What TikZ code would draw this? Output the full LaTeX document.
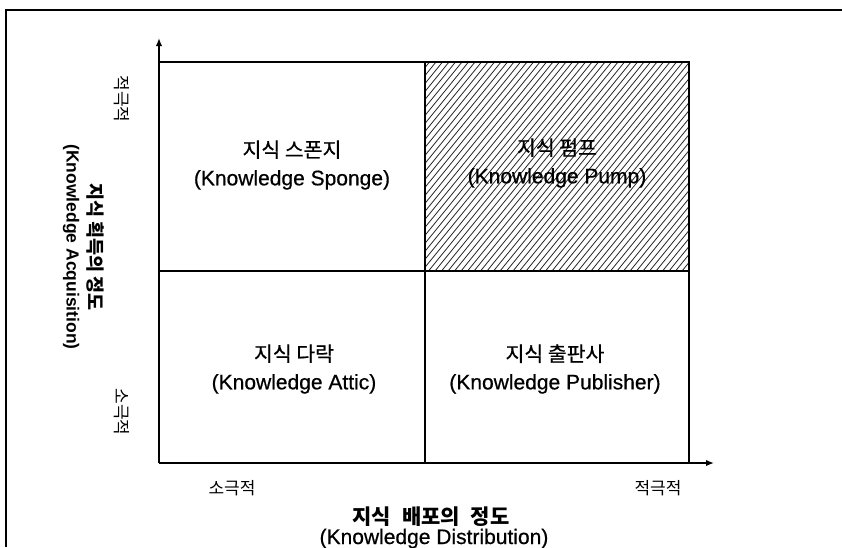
\documentclass[tikz,border=0pt]{standalone}
\usepackage{fontspec}
\setmainfont{Liberation Sans}
\newfontfamily\kr{Noto Sans CJK KR}
\newfontfamily\krm[FakeBold=0.6]{Noto Sans CJK KR}
\newfontfamily\lam[FakeBold=0.6]{Liberation Sans}
\usetikzlibrary{arrows.meta}
\begin{document}
\begin{tikzpicture}[x=1pt,y=-1pt,
  frame/.style={line width=1.7pt},
  gridline/.style={line width=1.6pt},
  hatch/.style={line width=0.8pt, black!85},
  axis/.style={line width=1.6pt, -{Latex[length=8pt,width=6.5pt]}},
  quad/.style={align=center, font=\lam\fontsize{21}{28}\selectfont, inner sep=0pt},
  small/.style={font=\kr\fontsize{17}{20}\selectfont, inner sep=0pt},
  ttl/.style={inner sep=0pt}]
\useasboundingbox (0,0) rectangle (842,547);
\draw[frame] (6,547) -- (6,10) -- (842,10);
% hatched quadrant
\begin{scope}
  \clip (425,62) rectangle (689,271);
  \foreach \x in {240,246.5,...,700} \draw[hatch] (\x,271) -- ++(170,-209);
\end{scope}
% grid
\coordinate (o) at (159,463);
\coordinate (ytip) at (159,38);
\coordinate (xtip) at (714,463);
\coordinate (tl) at (159,62);
\coordinate (tr) at (689,62);
\coordinate (br) at (689,463);
\coordinate (tm) at (425,62);
\coordinate (bm) at (425,463);
\coordinate (ml) at (159,271);
\coordinate (mr) at (689,271);
\draw[gridline] (tl) -- (tr) -- (br);
\draw[gridline] (tm) -- (bm);
\draw[gridline] (ml) -- (mr);
\draw[axis] (o) -- (ytip);
\draw[axis] (o) -- (xtip);
% quadrant labels
\node[quad] (sponge) at (292,165) {{\krm\fontsize{20.5}{28}\selectfont 지식 스폰지}\\(Knowledge Sponge)};
\node[quad] (pump) at (557,163) {{\krm\fontsize{20.5}{28}\selectfont 지식 펌프}\\(Knowledge Pump)};
\node[quad] (attic) at (294,369) {{\krm\fontsize{20.5}{28}\selectfont 지식 다락}\\(Knowledge Attic)};
\node[quad] (pub) at (555,369) {{\krm\fontsize{20.5}{28}\selectfont 지식 출판사}\\(Knowledge Publisher)};
% axis labels
\node[small, rotate=-90] (yhi) at (122,99) {적극적};
\node[small, rotate=-90] (ylo) at (122,412) {소극적};
\node[small] (xlo) at (232,488) {소극적};
\node[small] (xhi) at (658,488) {적극적};
\node[ttl, rotate=-90, font=\kr\bfseries\fontsize{18.5}{22}\selectfont] (ytitlekr) at (95,247) {지식 획득의 정도};
\node[ttl, rotate=-90, font=\bfseries\fontsize{17.5}{22}\selectfont] (ytitleen) at (71,247) {(Knowledge Acquisition)};
\node[ttl, anchor=base, font=\kr\bfseries\fontsize{21}{24}\selectfont] (xtitlekr) at (431,524) {지식\hspace{6pt} 배포의\hspace{6pt} 정도};
\node[ttl, anchor=base, font=\lam\fontsize{21}{24}\selectfont] (xtitleen) at (434,544) {(Knowledge Distribution)};
\end{tikzpicture}
\end{document}
